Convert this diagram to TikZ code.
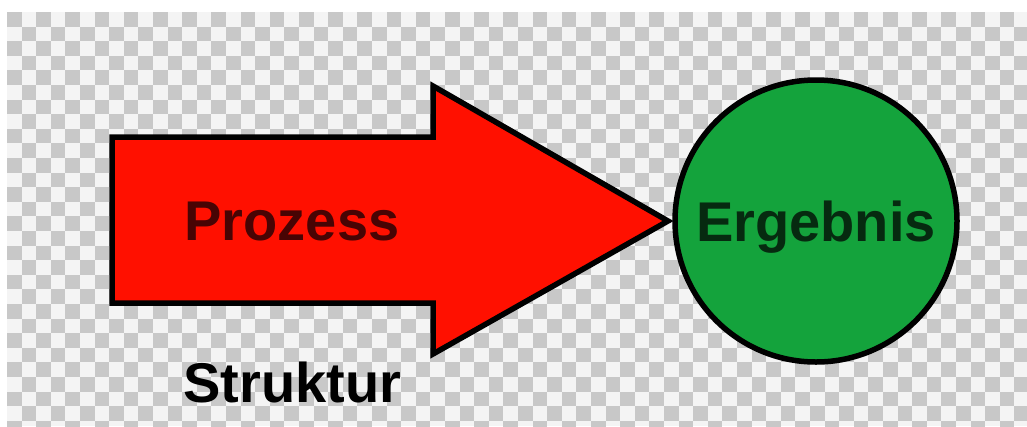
\documentclass[tikz,border=0pt]{standalone}
\usepackage{fontspec}
\setmainfont{Liberation Sans}
\definecolor{checklight}{RGB}{244,244,244}
\definecolor{checkdark}{RGB}{200,200,200}
\definecolor{procred}{RGB}{255,16,0}
\definecolor{resgreen}{RGB}{20,163,60}
\definecolor{proctext}{RGB}{72,4,4}
\definecolor{restext}{RGB}{6,42,16}
\tikzset{
  outline/.style={draw=black, line width=5.5pt, line join=miter},
  bigtext/.style={font=\fontsize{56}{62}\selectfont\bfseries, inner sep=0pt},
}
\begin{document}
\begin{tikzpicture}[x=1pt,y=-1pt]
\useasboundingbox (0,0) rectangle (1027,426);
\fill[white] (0,0) rectangle (1027,426);
% checkerboard background
\begin{scope}
\clip (7,12) rectangle (1027,426);
\fill[checklight] (7,12) rectangle (1027,426);
\foreach \i in {0,...,70}{
  \foreach \j in {0,2,...,28}{
    \pgfmathtruncatemacro{\jj}{\j+mod(\i,2)}
    \fill[checkdark] (7+14.6*\i,12+14.6*\jj) rectangle ++(14.6,14.6);
  }
}
\end{scope}
% arrow
\coordinate (a1) at (112,137);
\coordinate (a2) at (433,137);
\coordinate (a3) at (433,86);
\coordinate (tip) at (668,221);
\coordinate (a5) at (433,354);
\coordinate (a6) at (433,303);
\coordinate (a7) at (112,303);
\draw[outline, fill=procred] (a1) -- (a2) -- (a3) -- (tip) -- (a5) -- (a6) -- (a7) -- cycle;
\node[bigtext, text=proctext, anchor=base] (proc) at (292,240) {Prozess};
% result circle
\node[circle, outline, fill=resgreen, minimum size=282pt, bigtext, text=restext,
      text height=40.1pt, text depth=0pt] (erg) at (816,221) {Ergebnis};
% label below
\node[bigtext, text=black, anchor=base] (struk) at (292.5,402) {Struktur};
\end{tikzpicture}
\end{document}
